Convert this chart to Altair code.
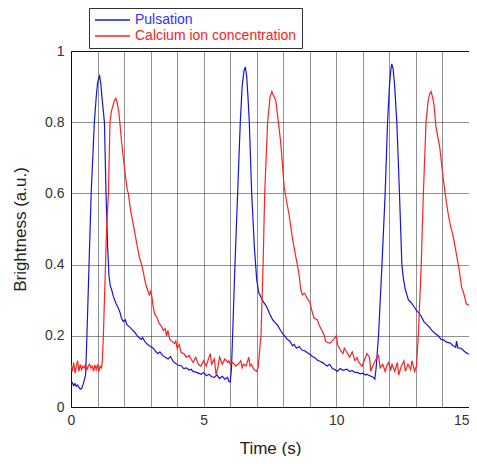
import altair as alt
import pandas as pd

series_names = ["Pulsation", "Calcium ion concentration"]
series_colors = ["#1515d8", "#ff2020"]

x_ticks = [0, 1, 2, 3, 4, 5, 6, 7, 8, 9, 10, 11, 12, 13, 14, 15]
y_ticks = [0, 0.2, 0.4, 0.6, 0.8, 1.0]

pulse_t = [0.0, 0.05, 0.1, 0.15, 0.2, 0.25, 0.3, 0.35, 0.4, 0.45, 0.5, 0.55, 0.6, 0.68, 0.76, 0.88,
           0.95, 1.0, 1.05, 1.08, 1.12, 1.18, 1.26, 1.32, 1.38, 1.43, 1.48, 1.53, 1.6, 1.65, 1.7,
           1.78, 1.85, 1.9, 1.97, 2.05, 2.1, 2.2, 2.3, 2.4, 2.5, 2.55, 2.65, 2.7, 2.8, 2.9, 3.0,
           3.1, 3.2, 3.28, 3.35, 3.45, 3.55, 3.66, 3.75, 3.85, 3.95, 4.03, 4.15, 4.25, 4.35, 4.45,
           4.53, 4.6, 4.7, 4.8, 4.9, 5.0, 5.1, 5.2, 5.3, 5.4, 5.5, 5.6, 5.7, 5.8, 5.9, 5.95, 6.0,
           6.05, 6.09, 6.18, 6.28, 6.38, 6.45, 6.52, 6.57, 6.62, 6.67, 6.72, 6.81, 6.91, 7.0, 7.08,
           7.15, 7.25, 7.35, 7.41, 7.5, 7.6, 7.7, 7.8, 7.9, 7.97, 8.05, 8.15, 8.25, 8.35, 8.41,
           8.5, 8.6, 8.7, 8.8, 8.9, 9.0, 9.1, 9.2, 9.28, 9.4, 9.5, 9.6, 9.66, 9.75, 9.85, 9.95,
           10.03, 10.15, 10.25, 10.4, 10.5, 10.6, 10.7, 10.78, 10.9, 11.0, 11.1, 11.15, 11.25,
           11.35, 11.4, 11.45, 11.5, 11.59, 11.72, 11.84, 11.93, 12.0, 12.05, 12.09, 12.14, 12.2,
           12.28, 12.38, 12.47, 12.53, 12.6, 12.66, 12.72, 12.8, 12.9, 13.03, 13.1, 13.2, 13.3,
           13.4, 13.5, 13.6, 13.7, 13.84, 13.95, 14.05, 14.15, 14.28, 14.4, 14.5, 14.53, 14.58,
           14.7, 14.8, 14.9, 15.0]
pulse_v = [0.065, 0.068, 0.06, 0.066, 0.058, 0.062, 0.055, 0.05, 0.052, 0.062, 0.075, 0.09, 0.2, 0.4,
           0.6, 0.8, 0.87, 0.91, 0.925, 0.93, 0.91, 0.86, 0.8, 0.6, 0.45, 0.37, 0.34, 0.33, 0.31,
           0.3, 0.29, 0.278, 0.265, 0.25, 0.24, 0.245, 0.232, 0.225, 0.218, 0.21, 0.2, 0.195, 0.19,
           0.195, 0.182, 0.175, 0.17, 0.165, 0.155, 0.15, 0.155, 0.145, 0.14, 0.135, 0.142, 0.128,
           0.122, 0.118, 0.116, 0.108, 0.11, 0.104, 0.106, 0.1, 0.098, 0.095, 0.092, 0.097, 0.088,
           0.092, 0.085, 0.083, 0.09, 0.08, 0.086, 0.078, 0.083, 0.072, 0.07, 0.11, 0.2, 0.4, 0.6,
           0.8, 0.9, 0.945, 0.955, 0.93, 0.87, 0.8, 0.6, 0.45, 0.357, 0.32, 0.31, 0.295, 0.285,
           0.275, 0.26, 0.245, 0.237, 0.228, 0.215, 0.207, 0.2, 0.19, 0.185, 0.172, 0.176, 0.165,
           0.17, 0.16, 0.158, 0.153, 0.148, 0.142, 0.138, 0.132, 0.128, 0.124, 0.118, 0.115, 0.12,
           0.108, 0.105, 0.1, 0.108, 0.103, 0.106, 0.1, 0.102, 0.097, 0.097, 0.093, 0.095, 0.09,
           0.092, 0.088, 0.085, 0.083, 0.078, 0.11, 0.2, 0.4, 0.6, 0.8, 0.9, 0.945, 0.964, 0.95,
           0.9, 0.8, 0.6, 0.4, 0.36, 0.33, 0.315, 0.3, 0.295, 0.285, 0.27, 0.265, 0.255, 0.24,
           0.232, 0.225, 0.215, 0.208, 0.2, 0.19, 0.188, 0.182, 0.18, 0.172, 0.168, 0.185, 0.166,
           0.165, 0.158, 0.152, 0.148]

calcium_t = [0.0, 0.05, 0.1, 0.15, 0.2, 0.25, 0.3, 0.35, 0.4, 0.45, 0.5, 0.55, 0.6, 0.65, 0.7, 0.75,
             0.8, 0.85, 0.9, 0.95, 1.0, 1.05, 1.1, 1.15, 1.18, 1.22, 1.28, 1.34, 1.41, 1.47, 1.52,
             1.57, 1.63, 1.69, 1.74, 1.8, 1.84, 1.9, 1.97, 2.05, 2.12, 2.16, 2.25, 2.33, 2.41, 2.5,
             2.58, 2.66, 2.72, 2.8, 2.88, 2.95, 3.0, 3.05, 3.1, 3.16, 3.25, 3.32, 3.4, 3.48, 3.55,
             3.6, 3.65, 3.72, 3.8, 3.9, 3.95, 4.0, 4.08, 4.15, 4.25, 4.35, 4.45, 4.53, 4.6, 4.7,
             4.8, 4.9, 5.0, 5.1, 5.2, 5.25, 5.3, 5.4, 5.47, 5.53, 5.6, 5.7, 5.8, 5.9, 5.95, 6.0,
             6.1, 6.2, 6.3, 6.4, 6.45, 6.5, 6.6, 6.7, 6.75, 6.8, 6.9, 7.0, 7.05, 7.16, 7.24, 7.3,
             7.41, 7.5, 7.57, 7.63, 7.72, 7.8, 7.9, 7.97, 8.03, 8.12, 8.22, 8.34, 8.45, 8.53, 8.6,
             8.66, 8.72, 8.8, 8.9, 9.0, 9.08, 9.16, 9.28, 9.35, 9.47, 9.55, 9.59, 9.7, 9.78, 9.9,
             10.0, 10.05, 10.15, 10.25, 10.3, 10.4, 10.5, 10.6, 10.7, 10.78, 10.85, 10.97, 11.05,
             11.15, 11.25, 11.3, 11.4, 11.5, 11.59, 11.65, 11.75, 11.84, 11.9, 11.97, 12.05, 12.1,
             12.2, 12.3, 12.35, 12.45, 12.55, 12.6, 12.7, 12.8, 12.85, 12.95, 13.02, 13.09, 13.2,
             13.28, 13.38, 13.46, 13.52, 13.57, 13.63, 13.68, 13.75, 13.82, 13.9, 14.0, 14.1,
             14.22, 14.3, 14.41, 14.5, 14.56, 14.64, 14.72, 14.8, 14.9, 15.0]
calcium_v = [0.12, 0.1, 0.125, 0.095, 0.115, 0.13, 0.1, 0.12, 0.105, 0.115, 0.11, 0.12, 0.105, 0.115,
             0.12, 0.11, 0.115, 0.1, 0.118, 0.105, 0.12, 0.1, 0.115, 0.11, 0.13, 0.2, 0.35, 0.5, 0.6,
             0.8, 0.83, 0.844, 0.86, 0.867, 0.855, 0.83, 0.8, 0.75, 0.7, 0.65, 0.61, 0.6, 0.55, 0.52,
             0.487, 0.45, 0.42, 0.4, 0.38, 0.35, 0.33, 0.315, 0.325, 0.31, 0.28, 0.26, 0.25, 0.235,
             0.228, 0.215, 0.22, 0.2, 0.215, 0.19, 0.185, 0.178, 0.185, 0.165, 0.175, 0.153, 0.15,
             0.14, 0.145, 0.134, 0.125, 0.14, 0.12, 0.115, 0.13, 0.115, 0.14, 0.15, 0.12, 0.135, 0.09,
             0.11, 0.14, 0.12, 0.135, 0.125, 0.13, 0.12, 0.125, 0.115, 0.12, 0.13, 0.11, 0.12, 0.115,
             0.14, 0.115, 0.12, 0.105, 0.1, 0.11, 0.2, 0.4, 0.6, 0.8, 0.87, 0.886, 0.875, 0.86, 0.81,
             0.746, 0.68, 0.62, 0.58, 0.54, 0.477, 0.43, 0.4, 0.37, 0.33, 0.315, 0.32, 0.305, 0.295,
             0.27, 0.25, 0.245, 0.23, 0.213, 0.2, 0.185, 0.18, 0.18, 0.19, 0.2, 0.175, 0.16, 0.15,
             0.165, 0.153, 0.14, 0.155, 0.13, 0.139, 0.125, 0.115, 0.13, 0.15, 0.14, 0.1, 0.12, 0.135,
             0.145, 0.11, 0.12, 0.1, 0.115, 0.125, 0.105, 0.12, 0.1, 0.125, 0.09, 0.115, 0.13, 0.1,
             0.12, 0.105, 0.13, 0.1, 0.115, 0.2, 0.4, 0.6, 0.8, 0.86, 0.88, 0.886, 0.87, 0.85, 0.79,
             0.76, 0.728, 0.66, 0.6, 0.54, 0.51, 0.477, 0.44, 0.415, 0.38, 0.337, 0.32, 0.29, 0.285]

df = pd.concat([
    pd.DataFrame({"t": pulse_t, "v": pulse_v, "series": series_names[0], "order": 0}),
    pd.DataFrame({"t": calcium_t, "v": calcium_v, "series": series_names[1], "order": 1}),
], ignore_index=True)

FONT = "Liberation Sans"

chart = alt.Chart(df).mark_line(strokeWidth=1.2, clip=True).encode(
    x=alt.X("t:Q", scale=alt.Scale(domain=[0, 15], nice=False, zero=False),
            axis=alt.Axis(title="Time (s)", values=x_ticks,
                          labelExpr="datum.value % 5 == 0 ? datum.label : ''",
                          labelAlign=alt.expr("datum.value == 15 ? 'right' : 'center'"),
                          grid=True, ticks=False, domain=False, labelPadding=6,
                          titlePadding=13, labelFlush=False)),
    y=alt.Y("v:Q", scale=alt.Scale(domain=[0, 1], nice=False),
            axis=alt.Axis(title="Brightness (a.u.)", values=y_ticks, format="~g",
                          grid=True, ticks=False, domain=False, labelPadding=7,
                          titlePadding=15)),
    color=alt.Color("series:N", scale=alt.Scale(domain=series_names, range=series_colors),
                    legend=alt.Legend(title=None, orient="none", legendX=18, legendY=-43,
                                      symbolType="stroke", symbolSize=1225,
                                      symbolStrokeWidth=1.5, labelOffset=4,
                                      labelFontSize=14, labelFont=FONT, labelLimit=400,
                                      clipHeight=14,
                                      labelColor=alt.expr("datum.label == 'Pulsation' ? '#3030ff' : '#ff2020'"),
                                      padding=5, rowPadding=2, strokeColor="#333333",
                                      fillColor="white")),
    order=alt.Order("order:Q"),
    detail="series:N",
).properties(
    width=398, height=356,
    padding={"left": 63, "top": 43, "right": 0, "bottom": 49},
    autosize=alt.AutoSizeParams(type="none"),
).configure_view(
    stroke="black", strokeWidth=1,
).configure_axis(
    gridColor="#222222", gridDash=[1, 1], gridOpacity=1, gridWidth=1,
    labelFont=FONT, labelFontSize=14, labelColor="#333333",
    titleFont=FONT, titleFontSize=17, titleColor="#222222", titleFontWeight="normal",
)

chart.save("out.html", embed_options={"renderer": "svg", "actions": False})
